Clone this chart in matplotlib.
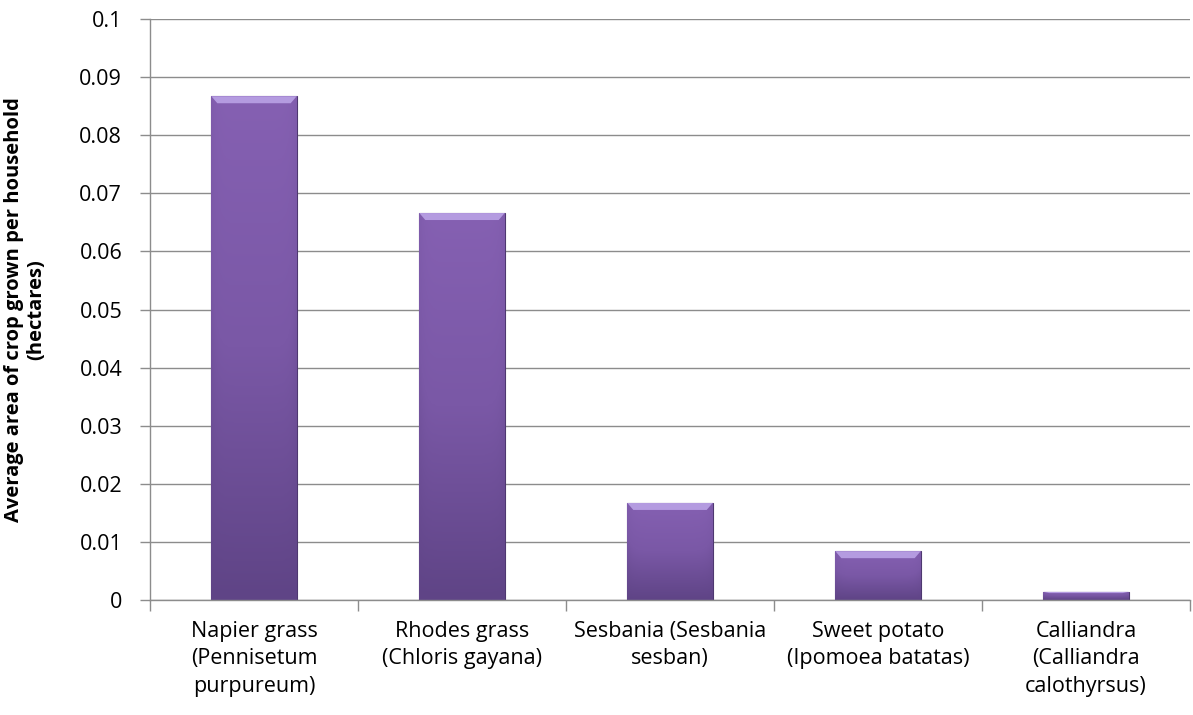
import matplotlib.pyplot as plt
import numpy as np
from matplotlib.colors import LinearSegmentedColormap

# data
crops = ['Napier grass\n(Pennisetum\npurpureum)', 'Rhodes grass\n(Chloris gayana)',
         'Sesbania (Sesbania\nsesban)', 'Sweet potato\n(Ipomoea batatas)',
         'Calliandra\n(Calliandra\ncalothyrsus)']
area = [0.0867, 0.0666, 0.0167, 0.0084, 0.0014]
yticks = [0, 0.01, 0.02, 0.03, 0.04, 0.05, 0.06, 0.07, 0.08, 0.09, 0.1]
ytick_labels = ['0', '0.01', '0.02', '0.03', '0.04', '0.05', '0.06', '0.07', '0.08', '0.09', '0.1']

ftsz = 15.5
plt.rcParams['font.family'] = ['Open Sans', 'DejaVu Sans']
grid_col = '#8c8c8c'

fig = plt.figure(figsize=(11.93, 7.15), dpi=100)
ax = fig.add_axes([150 / 1193, 1 - 600 / 715, 1040 / 1193, 581 / 715])

x = np.arange(len(crops))
bars = ax.bar(x, area, width=0.41, color='#7656a0', edgecolor='#4e3870', linewidth=0.8, zorder=2)

# vertical gradient with darker sides, clipped to each bar
cmap = LinearSegmentedColormap.from_list('purp', ['#5f4486', '#7a58a6', '#8560b2'])
gy = np.linspace(0, 1, 200)[:, None]
gx = np.linspace(-1, 1, 60)[None, :]
shade = gy * (1 - 0.25 * gx ** 8)
for b in bars:
    x0, w, h = b.get_x(), b.get_width(), b.get_height()
    im = ax.imshow(shade, cmap=cmap, vmin=0, vmax=1, origin='lower', aspect='auto',
                   extent=[x0, x0 + w, 0, h], zorder=2.5, interpolation='bilinear')
    im.set_clip_path(b)
    # light bevel at the top
    bev = min(h * 0.15, 0.0012)
    ax.fill([x0, x0 + w, x0 + w * 0.93, x0 + w * 0.07], [h, h, h - bev, h - bev],
            color='#b49be0', zorder=2.6, linewidth=0)

ax.set_xlim(-0.5, len(crops) - 0.5)
ax.set_ylim(0, 0.1)
ax.set_yticks(yticks)
ax.set_yticklabels(ytick_labels, fontsize=ftsz)
ax.set_xticks(x)
ax.set_xticklabels(crops, fontsize=ftsz, linespacing=1.4)
ax.tick_params(axis='x', length=0, pad=15)
ax.set_xticks(np.arange(len(crops) + 1) - 0.5, minor=True)
ax.tick_params(axis='x', which='minor', length=8, color=grid_col, width=1)
ax.tick_params(axis='y', length=7, color=grid_col, width=1, pad=13)

ax.grid(axis='y', color=grid_col, linewidth=1, zorder=1)
ax.set_axisbelow(True)
for s in ['top', 'right']:
    ax.spines[s].set_visible(False)
for s in ['left', 'bottom']:
    ax.spines[s].set_color(grid_col)
    ax.spines[s].set_linewidth(1)

ax.set_ylabel('Average area of crop grown per household\n(hectares)', fontsize=14.5,
              fontweight='bold', linespacing=1.1)
ax.yaxis.set_label_coords(-0.1, 0.5)

plt.savefig('out.png', dpi=100)
